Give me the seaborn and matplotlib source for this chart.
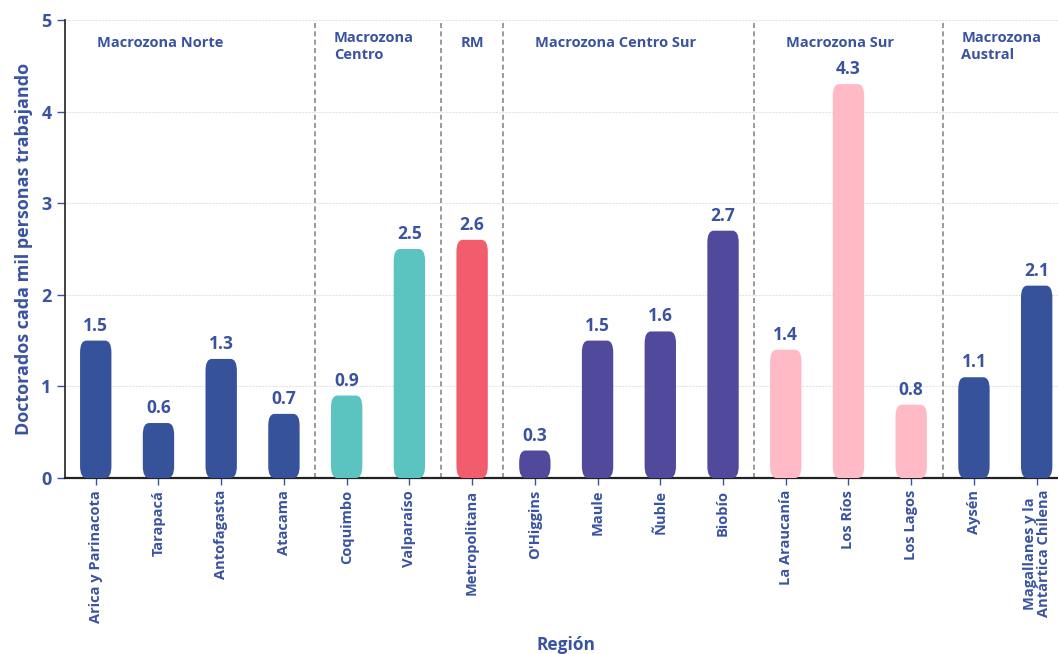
import matplotlib
matplotlib.use("Agg")
import matplotlib.pyplot as plt
import seaborn as sns
import pandas as pd
from matplotlib.patches import FancyBboxPatch

regiones = ["Arica y Parinacota", "Tarapacá", "Antofagasta", "Atacama",
            "Coquimbo", "Valparaíso", "Metropolitana",
            "O'Higgins", "Maule", "Ñuble", "Biobío",
            "La Araucanía", "Los Ríos", "Los Lagos",
            "Aysén", "Magallanes y la\nAntártica Chilena"]
valores = [1.5, 0.6, 1.3, 0.7, 0.9, 2.5, 2.6, 0.3, 1.5, 1.6, 2.7, 1.4, 4.3, 0.8, 1.1, 2.1]
zonas = ["Norte"] * 4 + ["Centro"] * 2 + ["RM"] + ["Centro Sur"] * 4 + ["Sur"] * 3 + ["Austral"] * 2
colores_zona = {"Norte": "#36529B", "Centro": "#5BC4C1", "RM": "#F25C6C",
                "Centro Sur": "#514A9C", "Sur": "#FFBAC6", "Austral": "#36529B"}
titulos_zona = ["Macrozona Norte", "Macrozona\nCentro", "RM", "Macrozona Centro Sur",
                "Macrozona Sur", "Macrozona\nAustral"]

AZUL = "#3A53A0"
sns.set_theme(style="white")
plt.rcParams["font.family"] = ["Open Sans", "DejaVu Sans"]
plt.rcParams["font.weight"] = "bold"

df = pd.DataFrame({"region": regiones, "valor": valores, "zona": zonas})

fig = plt.figure(figsize=(10.58, 6.54), dpi=100)
ax = fig.add_axes([65 / 1058, 176 / 654, 1 - 65 / 1058, 458 / 654])

sns.barplot(data=df, x="region", y="valor", hue="zona", palette=colores_zona,
            dodge=False, width=0.5, legend=False, ax=ax, saturation=1)

ax.set_xlim(-0.49, 15.34)
ax.set_ylim(0, 5)

# replace the plain rectangles with rounded bars (taller corner radius than wide)
aspect = 1.3
for p in list(ax.patches):
    x, w, h = p.get_x(), p.get_width(), p.get_height()
    color = p.get_facecolor()
    p.remove()
    if h <= 0:
        continue
    r = min(0.1, h / aspect / 2.05)
    fb = FancyBboxPatch((x, 0.0), w, h, boxstyle=f"round,pad=0,rounding_size={r}",
                        mutation_aspect=aspect, facecolor=color, edgecolor="none", zorder=3)
    ax.add_patch(fb)

for i, v in enumerate(valores):
    ax.text(i, v + 0.065, f"{v:.1f}", ha="center", va="bottom", fontsize=12.5,
            fontweight="bold", color=AZUL, zorder=4)

# zone separators
for xs in [3.5, 5.5, 6.5, 10.5, 13.5]:
    ax.plot([xs, xs], [0, 4.98], ls=(0, (3, 2)), color="#8a8a8a", lw=1.2, zorder=2)

# zone titles
ytxt = 4.75
kw = dict(fontsize=10.5, color=AZUL, fontweight="bold")
ax.text(0.02, ytxt, titulos_zona[0], ha="left", va="center", **kw)
ax.text(3.8, 4.88, titulos_zona[1], ha="left", va="top", linespacing=1.25, **kw)
ax.text(6.0, ytxt, titulos_zona[2], ha="center", va="center", **kw)
ax.text(7.0, ytxt, titulos_zona[3], ha="left", va="center", **kw)
ax.text(11.0, ytxt, titulos_zona[4], ha="left", va="center", **kw)
ax.text(13.8, 4.88, titulos_zona[5], ha="left", va="top", linespacing=1.25, **kw)

ax.set_yticks([0, 1, 2, 3, 4, 5])
ax.yaxis.grid(True, color="#e3e3e3", ls=(0, (2, 1)), lw=0.8)
ax.set_axisbelow(True)
ax.tick_params(axis="y", labelsize=13, labelcolor=AZUL, length=6, color=AZUL, left=True, width=1)
ax.tick_params(axis="x", labelsize=10.5, labelcolor=AZUL, length=5, color=AZUL, bottom=True, rotation=90, width=1)
for lab in ax.get_yticklabels() + ax.get_xticklabels():
    lab.set_fontweight("bold")
for lab in ax.get_xticklabels():
    lab.set_linespacing(1.0)

for s in ["top", "right"]:
    ax.spines[s].set_visible(False)
ax.spines["left"].set_color("#333333")
ax.spines["left"].set_linewidth(1.3)
ax.spines["bottom"].set_color("#222222")
ax.spines["bottom"].set_linewidth(1.6)

ax.set_ylabel("Doctorados cada mil personas trabajando", fontsize=13, color=AZUL, fontweight="bold", labelpad=6)
ax.set_xlabel("Región", fontsize=12.5, color=AZUL, fontweight="bold", va="center")
ax.xaxis.set_label_coords(0.505, -0.364)

fig.savefig("out.png", dpi=100)
